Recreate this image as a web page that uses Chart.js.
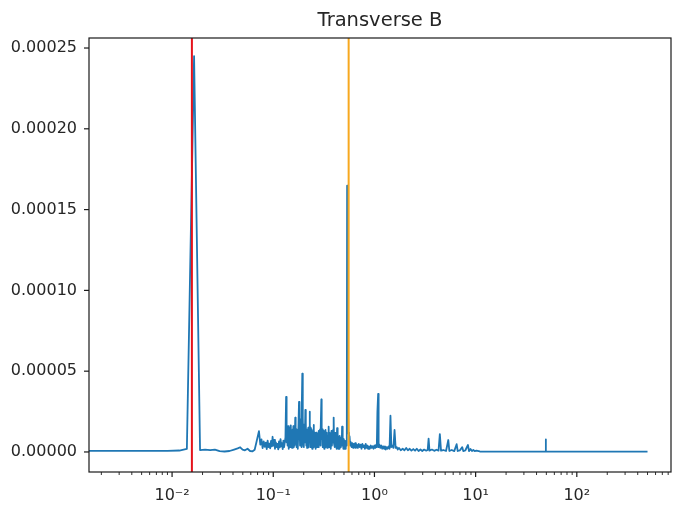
<!DOCTYPE html>
<html>
<head>
<meta charset="utf-8">
<title>Transverse B</title>
<script src="https://cdn.jsdelivr.net/npm/chart.js@4.4.1/dist/chart.umd.min.js"></script>
<style>
  html, body { margin: 0; padding: 0; background: #fff; }
  #wrap { width: 673px; height: 505px; }
</style>
</head>
<body>
<div id="wrap"><canvas id="spectrum"></canvas></div>
<script>
// spectrum: frequency bins and power
const freq = [
  0.00151, 0.003, 0.006, 0.009, 0.0118, 0.0140, 0.0165, 0.0189, 0.0212, 0.0238,
  0.0265, 0.0295, 0.033, 0.037, 0.041, 0.0445, 0.0471, 0.0498, 0.0525, 0.0557,
  0.0590, 0.0625, 0.0655, 0.0680,
  0.0722, 0.0745, 0.0765, 0.0785, 0.0805, 0.0825, 0.0845, 0.0862, 0.0880, 0.0898,
  0.0915, 0.0932, 0.0950, 0.0968, 0.0985, 0.1000, 0.1020, 0.1040, 0.1060, 0.1080,
  0.1100, 0.1120, 0.1140, 0.1160, 0.1180, 0.1200, 0.1220, 0.1240, 0.1260, 0.1280,
  0.1300, 0.1320, 0.1340, 0.1355, 0.1370, 0.1385, 0.1400, 0.1415, 0.1430, 0.1445,
  0.1460, 0.1475, 0.1490, 0.1505, 0.1520, 0.1535, 0.1550, 0.1565, 0.1580, 0.1595,
  0.1610, 0.1625, 0.1650, 0.1665, 0.1680, 0.1695, 0.1710, 0.1725, 0.1740, 0.1755,
  0.1770, 0.1797, 0.1810, 0.1825, 0.1840, 0.1855, 0.1870, 0.1885, 0.1900, 0.1915,
  0.1937, 0.1950, 0.1965, 0.1980, 0.1995, 0.2010, 0.2030, 0.2050, 0.2075, 0.2090,
  0.2105, 0.2120, 0.2140, 0.2160, 0.2180, 0.2200, 0.2220, 0.2240, 0.2260, 0.2288,
  0.2305, 0.2325, 0.2345, 0.2365, 0.2385, 0.2405, 0.2425, 0.2445, 0.2465, 0.2490,
  0.2506, 0.2525, 0.2550, 0.2575, 0.2600, 0.2625, 0.2650, 0.2675, 0.2700, 0.2725,
  0.2750, 0.2775, 0.2800, 0.2825, 0.2850, 0.2875, 0.2900, 0.2925, 0.2950, 0.2987,
  0.3010, 0.3040, 0.3070, 0.3100, 0.3130, 0.3160, 0.3190, 0.3220, 0.3250, 0.3270,
  0.3300, 0.3330, 0.3360, 0.3390, 0.3420, 0.3450, 0.3480, 0.3527, 0.3560, 0.3600,
  0.3640, 0.3680, 0.3720, 0.3760, 0.3800, 0.3840, 0.3880, 0.3920, 0.3954, 0.3990,
  0.4030, 0.4070, 0.4110, 0.4150, 0.4190, 0.4230, 0.4274, 0.4310, 0.4350, 0.4390,
  0.4430, 0.4470, 0.4510, 0.4550, 0.4600, 0.4650, 0.4700, 0.4750, 0.4788, 0.4830,
  0.4880, 0.4930, 0.4980, 0.5030, 0.5080, 0.5130, 0.5180, 0.5230, 0.5280, 0.5330,
  0.5370, 0.5450, 0.5530,
  0.5600, 0.5680, 0.5760, 0.5850, 0.5950, 0.6050, 0.6150, 0.6250, 0.6350, 0.6450,
  0.6550, 0.6700, 0.6850, 0.7000, 0.7150, 0.7300, 0.7450, 0.7600, 0.7750, 0.7900,
  0.8050, 0.8200, 0.8350, 0.8500, 0.8650, 0.8800, 0.9000, 0.9200, 0.9400, 0.9600,
  0.9800, 1.0000, 1.0200, 1.0400, 1.0550, 1.0700, 1.0880, 1.1000, 1.1200, 1.1450,
  1.1700, 1.1950, 1.2200, 1.2450, 1.2700, 1.2950, 1.3200, 1.3500, 1.3800, 1.4100,
  1.4400, 1.4700, 1.5000, 1.5400, 1.5800, 1.6200, 1.6600, 1.7000,
  1.75, 1.82, 1.90, 1.98, 2.06, 2.14, 2.23, 2.32, 2.42, 2.52,
  2.62, 2.73, 2.85, 2.97, 3.10, 3.25, 3.36, 3.43, 3.50, 3.70,
  3.90, 4.10, 4.30, 4.43, 4.55, 4.80, 5.10, 5.37, 5.50, 5.80,
  6.15, 6.49, 6.65, 7.00, 7.38, 7.55, 7.90, 8.40, 8.60, 8.90,
  9.20, 9.50, 9.80, 10.2, 11.0, 13.0, 20.0, 30.0, 40.0, 49.0,
  49.3, 49.6, 80.0, 150, 300, 500
];

const power = [
  0.7e-6, 0.7e-6, 0.7e-6, 0.7e-6, 0.9e-6, 1.9e-6, 245e-6, 1.2e-6, 1.4e-6, 1.1e-6,
  1.5e-6, 0.5e-6, 0.3e-6, 0.6e-6, 1.5e-6, 2.2e-6, 2.9e-6, 1.4e-6, 1.0e-6, 2.0e-6,
  0.6e-6, 0.4e-6, 1.4e-6, 5.7e-6,
  12.9e-6, 4.5e-6, 7.8e-6, 2.4e-6, 6.5e-6, 3.2e-6, 5.8e-6, 1.8e-6, 7.0e-6, 3.0e-6,
  5.2e-6, 2.2e-6, 6.8e-6, 3.5e-6, 9.4e-6, 4.0e-6, 7.5e-6, 2.0e-6, 6.0e-6, 3.0e-6,
  5.0e-6, 1.6e-6, 6.5e-6, 2.8e-6, 8.0e-6, 3.5e-6, 5.5e-6, 1.8e-6, 7.0e-6, 3.0e-6,
  3.0e-6, 9.0e-6, 34.1e-6, 6.0e-6, 15.5e-6, 4.0e-6, 16.0e-6, 2.0e-6, 12.0e-6, 5.0e-6,
  15.0e-6, 3.0e-6, 16.5e-6, 6.0e-6, 13.0e-6, 2.5e-6, 14.0e-6, 5.0e-6, 16.0e-6, 3.0e-6,
  10.0e-6, 4.0e-6, 21.3e-6, 5.0e-6, 12.0e-6, 3.0e-6, 14.0e-6, 6.0e-6, 11.0e-6, 2.0e-6,
  13.0e-6, 31.0e-6, 8.0e-6, 18.0e-6, 4.0e-6, 20.0e-6, 7.0e-6, 15.0e-6, 3.0e-6, 22.0e-6,
  48.5e-6, 10.0e-6, 21.0e-6, 5.0e-6, 17.0e-6, 3.0e-6, 14.0e-6, 6.0e-6, 26.0e-6, 8.0e-6,
  17.7e-6, 4.0e-6, 14.0e-6, 2.5e-6, 12.0e-6, 5.0e-6, 15.0e-6, 3.0e-6, 13.0e-6, 24.9e-6,
  6.0e-6, 15.0e-6, 3.0e-6, 12.0e-6, 5.0e-6, 14.0e-6, 2.0e-6, 11.0e-6, 4.0e-6, 13.0e-6,
  16.7e-6, 3.0e-6, 12.0e-6, 5.0e-6, 10.0e-6, 2.0e-6, 12.0e-6, 4.0e-6, 9.0e-6, 3.0e-6,
  11.0e-6, 5.0e-6, 13.0e-6, 3.0e-6, 10.0e-6, 6.0e-6, 14.0e-6, 4.0e-6, 12.0e-6, 32.5e-6,
  8.0e-6, 14.0e-6, 3.0e-6, 11.0e-6, 5.0e-6, 13.0e-6, 2.0e-6, 10.0e-6, 4.0e-6, 13.6e-6,
  3.0e-6, 11.0e-6, 5.0e-6, 12.0e-6, 2.5e-6, 10.0e-6, 4.0e-6, 15.6e-6, 3.0e-6, 12.0e-6,
  5.0e-6, 11.0e-6, 2.0e-6, 13.0e-6, 4.0e-6, 10.0e-6, 6.0e-6, 14.0e-6, 21.3e-6, 5.0e-6,
  12.0e-6, 3.0e-6, 10.0e-6, 4.0e-6, 12.0e-6, 2.0e-6, 14.8e-6, 4.0e-6, 11.0e-6, 2.0e-6,
  9.0e-6, 3.0e-6, 10.0e-6, 2.0e-6, 8.0e-6, 3.0e-6, 9.0e-6, 4.0e-6, 15.6e-6, 5.0e-6,
  9.0e-6, 2.0e-6, 8.0e-6, 3.0e-6, 7.0e-6, 2.0e-6, 6.0e-6, 3.0e-6, 7.0e-6, 4.0e-6,
  164.8e-6, 41.0e-6, 12.0e-6,
  10.5e-6, 9.5e-6, 4.0e-6, 6.0e-6, 3.0e-6, 5.5e-6, 2.5e-6, 5.0e-6, 3.0e-6, 5.5e-6,
  2.5e-6, 4.5e-6, 2.5e-6, 5.0e-6, 3.0e-6, 4.5e-6, 2.0e-6, 5.0e-6, 3.0e-6, 4.0e-6,
  2.0e-6, 5.0e-6, 2.5e-6, 4.0e-6, 2.0e-6, 3.5e-6, 2.0e-6, 4.0e-6, 2.5e-6, 3.5e-6,
  2.0e-6, 4.0e-6, 2.5e-6, 4.5e-6, 3.0e-6, 25.0e-6, 36.0e-6, 3.0e-6, 4.5e-6, 2.5e-6,
  4.0e-6, 2.0e-6, 3.5e-6, 2.0e-6, 3.5e-6, 1.5e-6, 3.0e-6, 2.0e-6, 3.5e-6, 2.0e-6,
  22.4e-6, 3.0e-6, 4.0e-6, 2.5e-6, 13.6e-6, 2.5e-6, 3.0e-6, 1.5e-6,
  2.5e-6, 1.0e-6, 2.0e-6, 1.0e-6, 2.5e-6, 1.0e-6, 2.0e-6, 0.8e-6, 1.8e-6, 0.8e-6,
  2.0e-6, 0.6e-6, 1.5e-6, 0.6e-6, 1.5e-6, 0.8e-6, 1.2e-6, 8.3e-6, 0.8e-6, 1.5e-6,
  0.7e-6, 1.4e-6, 0.8e-6, 11.1e-6, 0.8e-6, 1.2e-6, 0.6e-6, 7.4e-6, 0.6e-6, 1.2e-6,
  0.5e-6, 4.8e-6, 0.6e-6, 1.0e-6, 3.0e-6, 0.5e-6, 0.9e-6, 4.3e-6, 0.5e-6, 1.8e-6,
  0.6e-6, 1.2e-6, 0.5e-6, 0.8e-6, 0.3e-6, 0.2e-6, 0.2e-6, 0.2e-6, 0.2e-6, 0.2e-6,
  7.8e-6, 0.2e-6, 0.2e-6, 0.2e-6, 0.2e-6, 0.2e-6
];

// marker frequencies (vertical lines)
const redLineFreq = 0.0157;
const orangeLineFreq = 0.556;

// axes
const xMin = 0.00151, xMax = 853;
const yMin = -12.4e-6, yMax = 256.2e-6;
const xMajorTicks = [0.01, 0.1, 1, 10, 100];
const xTickLabels = ['10\u207B\u00B2', '10\u207B\u00B9', '10\u2070', '10\u00B9', '10\u00B2'];
const yTickValues = [0, 0.00005, 0.0001, 0.00015, 0.0002, 0.00025];

const tickFont = { family: "'DejaVu Sans', sans-serif", size: 16 };
const textColor = '#262626';

// log ticks: majors at decades, minors at 2..9
function logTicks() {
  const ticks = [];
  for (let e = -3; e <= 2; e++) {
    for (let m = 1; m <= 9; m++) {
      const v = m * Math.pow(10, e);
      if (v < xMin || v > xMax) continue;
      const idx = xMajorTicks.findIndex(t => Math.abs(t - v) / t < 1e-9);
      ticks.push({ value: idx >= 0 ? xMajorTicks[idx] : v, major: idx >= 0, label: idx >= 0 ? xTickLabels[idx] : '' });
    }
  }
  return ticks;
}

// matplotlib-style box and outward tick marks
const frameAndTicks = {
  id: 'frameAndTicks',
  afterDatasetsDraw(chart) {
    const { ctx, chartArea: a, scales: { x, y } } = chart;
    ctx.save();
    ctx.strokeStyle = '#1a1a1a';
    ctx.lineWidth = 1.2;
    ctx.strokeRect(a.left, a.top, a.right - a.left, a.bottom - a.top);

    x.ticks.forEach(t => {
      const px = x.getPixelForValue(t.value);
      ctx.lineWidth = t.major ? 1.2 : 0.9;
      ctx.beginPath();
      ctx.moveTo(px, a.bottom);
      ctx.lineTo(px, a.bottom + (t.major ? 5 : 3));
      ctx.stroke();
    });
    ctx.lineWidth = 1.2;
    y.ticks.forEach(t => {
      const py = y.getPixelForValue(t.value);
      ctx.beginPath();
      ctx.moveTo(a.left, py);
      ctx.lineTo(a.left - 5, py);
      ctx.stroke();
    });
    ctx.restore();
  }
};

const vline = (f, color) => ({
  data: [{ x: f, y: yMin }, { x: f, y: yMax }],
  borderColor: color,
  borderWidth: 2,
  pointRadius: 0
});

new Chart(document.getElementById('spectrum'), {
  type: 'line',
  data: {
    datasets: [
      vline(redLineFreq, '#e5131b'),
      vline(orangeLineFreq, '#f7a81f'),
      {
        data: freq.map((f, i) => ({ x: f, y: power[i] })),
        borderColor: '#1f77b4',
        borderWidth: 1.8,
        borderJoinStyle: 'round',
        pointRadius: 0,
        tension: 0
      }
    ]
  },
  options: {
    responsive: true,
    maintainAspectRatio: false,
    animation: false,
    layout: { autoPadding: false, padding: { left: 0, right: 2, top: 0, bottom: 0 } },
    plugins: {
      legend: { display: false },
      tooltip: { enabled: false },
      title: {
        display: true,
        text: 'Transverse B',
        fullSize: false,
        color: textColor,
        font: { family: "'DejaVu Sans', sans-serif", size: 19.5, weight: 'normal' },
        padding: { top: 9, bottom: 5.6 }
      }
    },
    scales: {
      x: {
        type: 'logarithmic',
        min: xMin,
        max: xMax,
        grid: { display: false, drawTicks: false },
        border: { display: false },
        afterBuildTicks: scale => { scale.ticks = logTicks(); },
        afterFit: scale => {
          scale.height = 33;
          scale.paddingLeft = 0;
          scale.paddingRight = 0;
        },
        ticks: {
          autoSkip: false,
          maxRotation: 0,
          padding: 14,
          color: textColor,
          font: tickFont,
          callback: (val, idx, ticks) => ticks[idx].label
        }
      },
      y: {
        min: yMin,
        max: yMax,
        grid: { display: false, drawTicks: false },
        border: { display: false },
        afterBuildTicks: scale => { scale.ticks = yTickValues.map(v => ({ value: v })); },
        afterFit: scale => {
          scale.width = 89;
          scale.paddingTop = 0;
          scale.paddingBottom = 0;
        },
        ticks: {
          padding: 12,
          color: textColor,
          font: tickFont,
          callback: val => val.toFixed(5)
        }
      }
    }
  },
  plugins: [frameAndTicks]
});
</script>
</body>
</html>
